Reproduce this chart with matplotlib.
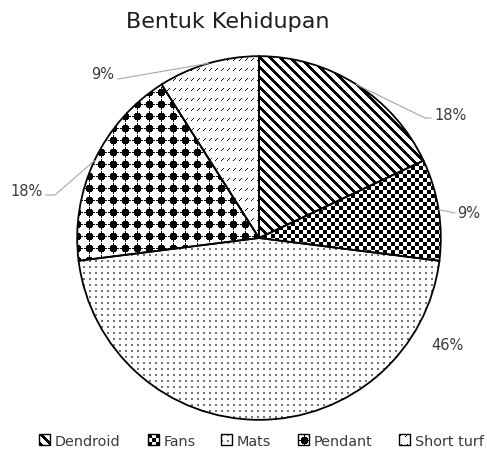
import numpy as np
import matplotlib
matplotlib.use("Agg")
import matplotlib.pyplot as plt
from matplotlib.patches import Wedge, Rectangle

# Data
title = "Bentuk Kehidupan"
categories = ["Dendroid", "Fans", "Mats", "Pendant", "Short turf"]
values = [18, 9, 46, 18, 9]
labels = [f"{v}%" for v in values]

W, H = 487, 450
FONT = "DejaVu Sans"
TEXT_COLOR = "#3a3a3a"
LEADER_COLOR = "#a6a6a6"

fig = plt.figure(figsize=(W / 100, H / 100), dpi=100)
fig.patch.set_facecolor("white")
ax = fig.add_axes([59 / W, 12 / H, 400 / W, 400 / H])

wedges, _ = ax.pie(values, startangle=90, counterclock=False, radius=1,
                   wedgeprops=dict(facecolor="white", edgecolor="none"))
ax.set_xlim(-1.1, 1.1)
ax.set_ylim(-1.1, 1.1)
ax.set_aspect("equal")
ax.axis("off")


# Fill patterns (pixel-level bitmaps, 1 = white, 0 = black)
def pattern(name, n):
    r, c = np.mgrid[0:n, 0:n]
    p = np.ones((n, n))
    if name == "Dendroid":          # wide downward diagonal
        p[((c - r) % 10) < 4] = 0.0
    elif name == "Fans":            # small checkerboard
        p[((r // 4 + c // 4) % 2) == 0] = 0.0
    elif name == "Mats":            # fine dots
        p[(r % 6 < 2) & (c % 6 < 2)] = 0.45
    elif name == "Pendant":         # large studded dots
        dx = (c % 12) - 6
        dy = (r % 12) - 6
        m = (dx ** 2 + dy ** 2 <= 14) | ((dx == 0) & (abs(dy) <= 5)) | \
            ((dy == 0) & (abs(dx) <= 5))
        p[m] = 0.0
    elif name == "Short turf":      # dashed upward diagonal
        rm = r % 10
        cm = c % 6
        p[(rm < 3) & (cm == 2 - rm)] = 0.05
    return p


for cat, w in zip(categories, wedges):
    im = ax.imshow(pattern(cat, 400), cmap="gray", vmin=0, vmax=1,
                   extent=(-1.1, 1.1, -1.1, 1.1), interpolation="nearest",
                   zorder=2)
    im.set_clip_path(w)
    ax.add_patch(Wedge(w.center, w.r, w.theta1, w.theta2, fill=False,
                       ec="black", lw=1.3, zorder=3))

ax.set_xlim(-1.1, 1.1)
ax.set_ylim(-1.1, 1.1)

# Overlay in pixel coordinates for labels, leaders, title and legend
ov = fig.add_axes([0, 0, 1, 1])
ov.set_xlim(0, W)
ov.set_ylim(H, 0)
ov.axis("off")
ov.patch.set_alpha(0)


def to_px(x, y):
    d = ax.transData.transform((x, y))
    return ov.transData.inverted().transform(d)


label_layout = {
    "Dendroid": ((434, 120), "left", [(425, 118), (431, 118)]),
    "Fans": ((457, 218), "left", [(455, 213)]),
    "Mats": ((431, 350), "left", None),
    "Pendant": ((43, 196), "right", [(55, 195), (46, 195)]),
    "Short turf": ((114, 79), "right", [(118, 79)]),
}

for cat, lab, w in zip(categories, labels, wedges):
    (tx, ty), ha, elbow = label_layout[cat]
    if elbow:
        mid = np.deg2rad((w.theta1 + w.theta2) / 2)
        sx, sy = to_px(w.r * np.cos(mid), w.r * np.sin(mid))
        xs = [sx] + [p[0] for p in elbow]
        ys = [sy] + [p[1] for p in elbow]
        ov.plot(xs, ys, color=LEADER_COLOR, lw=0.8, zorder=4)
    ov.text(tx, ty, lab, ha=ha, va="baseline", fontsize=10.5,
            family=FONT, color=TEXT_COLOR)

ov.text(228, 28, title, ha="center", va="baseline", fontsize=16,
        family=FONT, color="#1e1e1e")

# Legend
legend_x = [39, 148, 221, 298, 399]
for cat, x0 in zip(categories, legend_x):
    y0 = 434
    ov.imshow(pattern(cat, 11), cmap="gray", vmin=0, vmax=1,
              extent=(x0, x0 + 11, y0 + 11, y0), interpolation="nearest",
              zorder=4, aspect="auto")
    ov.add_patch(Rectangle((x0, y0), 11, 11, fill=False, ec="black",
                           lw=1.0, zorder=5))
    ov.text(x0 + 16, 446, cat, ha="left", va="baseline", fontsize=10.4,
            family=FONT, color=TEXT_COLOR)

ov.set_xlim(0, W)
ov.set_ylim(H, 0)

fig.savefig("out.png", dpi=100, facecolor="white")
